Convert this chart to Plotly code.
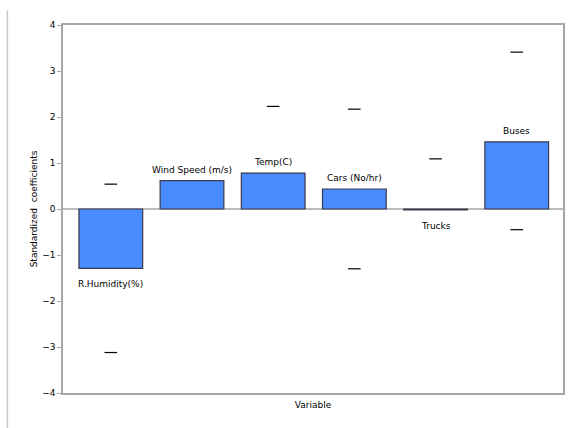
import plotly.graph_objects as go

# Standardized regression coefficients per predictor
variables = ["R.Humidity(%)", "Wind Speed (m/s)", "Temp(C)", "Cars (No/hr)", "Trucks", "Buses"]
coefficients = [-1.29, 0.615, 0.78, 0.435, -0.02, 1.46]

# Confidence bounds shown as short dashes (None where not drawn)
upper_bounds = [0.54, None, 2.23, 2.17, 1.09, 3.41]
lower_bounds = [-3.12, None, None, -1.30, None, -0.45]

BAR_BLUE = "rgb(72,140,255)"
GRID_GREY = "#a6a6a6"
FONT = "DejaVu Sans"

fig = go.Figure()

fig.add_trace(go.Bar(
    x=list(range(len(variables))),
    y=coefficients,
    width=0.785,
    marker=dict(color=BAR_BLUE, line=dict(color="#3a3a4a", width=1.2)),
    showlegend=False,
    hoverinfo="skip",
))

# Bound markers
for bounds in (upper_bounds, lower_bounds):
    xs = [i for i, b in enumerate(bounds) if b is not None]
    ys = [b for b in bounds if b is not None]
    fig.add_trace(go.Scatter(
        x=xs, y=ys, mode="markers",
        marker=dict(symbol="line-ew", size=9, line=dict(color="black", width=1.2)),
        showlegend=False, hoverinfo="skip",
    ))

# Category labels beside each bar
annotations = []
for i, (name, val) in enumerate(zip(variables, coefficients)):
    if val >= 0:
        annotations.append(dict(x=i, y=val, xref="x", yref="y", text=name, showarrow=False,
                                yanchor="bottom", yshift=4,
                                font=dict(family=FONT, size=9, color="black")))
    else:
        annotations.append(dict(x=i, y=val, xref="x", yref="y", text=name, showarrow=False,
                                yanchor="top", yshift=-9,
                                font=dict(family=FONT, size=9, color="black")))

fig.update_layout(
    width=575, height=428,
    margin=dict(l=63, r=10, t=25, b=35),
    paper_bgcolor="white", plot_bgcolor="white",
    font=dict(family=FONT, size=9, color="black"),
    annotations=annotations,
    shapes=[
        # outer frame edge on the left
        dict(type="line", xref="paper", yref="paper", x0=-0.1112, x1=-0.1112, y0=-0.1, y1=1.04,
             line=dict(color="#c8c8c8", width=1.5)),
        # zero baseline
        dict(type="line", xref="paper", yref="y", x0=0, x1=1, y0=0, y1=0,
             line=dict(color=GRID_GREY, width=1.5), layer="below"),
    ],
    xaxis=dict(
        range=[-0.589, 5.57],
        showticklabels=False, ticks="",
        showgrid=False, zeroline=False,
        showline=True, linecolor=GRID_GREY, linewidth=1.5, mirror=True,
        title=dict(text="Variable", font=dict(family=FONT, size=9), standoff=8),
    ),
    yaxis=dict(
        range=[-4, 4], dtick=1,
        ticks="outside", ticklen=4, tickcolor=GRID_GREY, tickwidth=1,
        showgrid=False, zeroline=False,
        showline=True, linecolor=GRID_GREY, linewidth=1.5, mirror=True,
        tickfont=dict(family=FONT, size=9),
        title=dict(text="Standardized  coefficients", font=dict(family=FONT, size=9), standoff=3),
    ),
)

fig.write_html("out.html")
